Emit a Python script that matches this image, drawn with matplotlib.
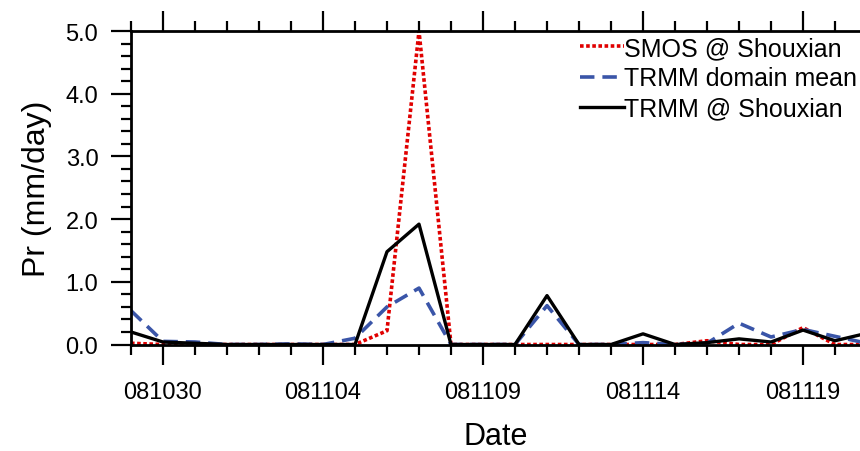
import numpy as np
import matplotlib.pyplot as plt
from matplotlib.ticker import FixedLocator, MultipleLocator, FormatStrFormatter

# ------------------------------------------------------------
# data (daily, 2008-10-29 .. 2008-11-21)
# ------------------------------------------------------------
dates = ["081029", "081030", "081031", "081101", "081102", "081103",
         "081104", "081105", "081106", "081107", "081108", "081109",
         "081110", "081111", "081112", "081113", "081114", "081115",
         "081116", "081117", "081118", "081119", "081120", "081121"]

smos_site = [0.02, 0.0, 0.0, 0.0, 0.0, 0.0,
             0.0, 0.0, 0.22, 5.0, 0.0, 0.0,
             0.0, 0.0, 0.0, 0.0, 0.0, 0.0,
             0.06, 0.0, 0.0, 0.27, 0.0, 0.0]

trmm_mean = [0.54, 0.05, 0.04, 0.0, 0.0, 0.01,
             0.0, 0.10, 0.60, 0.90, 0.0, 0.0,
             0.0, 0.62, 0.0, 0.0, 0.03, 0.0,
             0.02, 0.34, 0.12, 0.24, 0.13, 0.02]

trmm_site = [0.20, 0.04, 0.02, 0.0, 0.0, 0.0,
             0.0, 0.0, 1.48, 1.92, 0.0, 0.0,
             0.0, 0.78, 0.0, 0.0, 0.17, 0.0,
             0.03, 0.09, 0.04, 0.23, 0.06, 0.18]

label_dates = ["081030", "081104", "081109", "081114", "081119"]

plt.rcParams["font.family"] = ["Liberation Sans", "DejaVu Sans"]

fig = plt.figure(figsize=(8.6, 4.52), dpi=100, facecolor="white")
ax = fig.add_axes([0.1523, 0.2356, 0.8477, 0.6936])

x = np.arange(len(dates))

ax.plot(x, smos_site, color="#e00000", lw=2.6, ls=(0, (1.0, 0.7)),
        label="SMOS @ Shouxian")
ax.plot(x, trmm_mean, color="#3a55a8", lw=2.6, ls=(0, (4.0, 2.2)),
        label="TRMM domain mean")
ax.plot(x, trmm_site, color="black", lw=2.4, label="TRMM @ Shouxian")

ax.set_xlim(0, 22.78)
ax.set_ylim(0, 5.0)

major_idx = [dates.index(d) for d in label_dates]
ax.xaxis.set_major_locator(FixedLocator(major_idx))
ax.set_xticklabels(label_dates)
ax.xaxis.set_minor_locator(MultipleLocator(1))
ax.yaxis.set_major_locator(MultipleLocator(1.0))
ax.yaxis.set_minor_locator(MultipleLocator(0.2))
ax.yaxis.set_major_formatter(FormatStrFormatter("%.1f"))

ax.spines["right"].set_visible(False)
for s in ["left", "top", "bottom"]:
    ax.spines[s].set_linewidth(2.0)

ax.tick_params(axis="x", which="both", top=True, bottom=True,
               direction="out", width=1.6)
ax.tick_params(axis="y", which="both", left=True, right=False,
               direction="out", width=1.6)
ax.tick_params(which="major", length=14.5)
ax.tick_params(which="minor", length=7)
ax.tick_params(axis="x", which="major", labelsize=17, pad=12)
ax.tick_params(axis="y", which="major", labelsize=17, pad=9)

ax.set_xlabel("Date", fontsize=22, labelpad=13)
ax.set_ylabel("Pr (mm/day)", fontsize=23, labelpad=10)

leg = ax.legend(loc="upper left", bbox_to_anchor=(580 / 860, 1 - 37 / 452),
                bbox_transform=fig.transFigure, frameon=False, fontsize=18,
                handlelength=1.75, handletextpad=0.0, labelspacing=0.25,
                borderpad=0.0, borderaxespad=0.0)

fig.savefig("out.png", dpi=100, facecolor="white")
